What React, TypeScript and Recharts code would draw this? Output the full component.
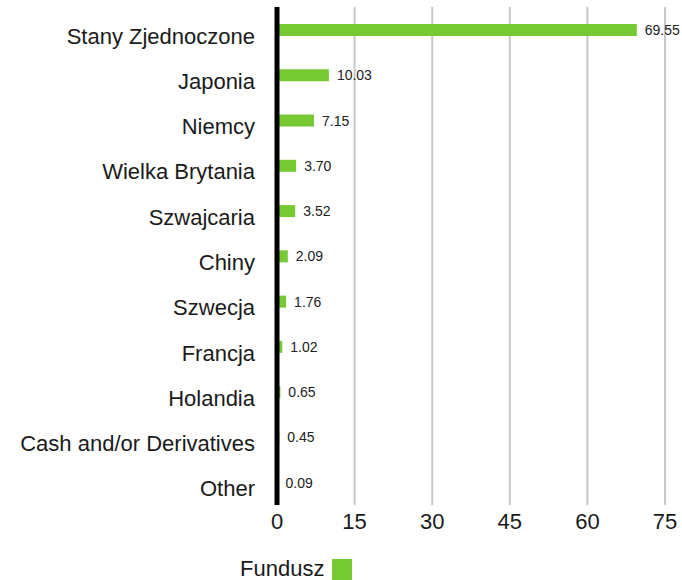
import { BarChart, Bar, XAxis, YAxis, CartesianGrid, LabelList } from "recharts";

const categories = [
  "Stany Zjednoczone",
  "Japonia",
  "Niemcy",
  "Wielka Brytania",
  "Szwajcaria",
  "Chiny",
  "Szwecja",
  "Francja",
  "Holandia",
  "Cash and/or Derivatives",
  "Other",
];

const fundValues = [69.55, 10.03, 7.15, 3.7, 3.52, 2.09, 1.76, 1.02, 0.65, 0.45, 0.09];

const xTicks = [0, 15, 30, 45, 60, 75];

const seriesName = "Fundusz";

const data = categories.map((name, i) => ({ name, value: fundValues[i] }));

const FONT = '"Liberation Sans", Arial, sans-serif';
const GREEN = "#76c933";

function CategoryTick(props: any) {
  const { x, y, payload } = props;
  return (
    <text
      x={x}
      y={y}
      dy={14}
      textAnchor="end"
      fill="#1a1a1a"
      fontSize={22}
      fontFamily={FONT}
    >
      {payload.value}
    </text>
  );
}

export default function App() {
  return (
    <div style={{ position: "absolute", top: 0, left: 0, width: 682, height: 580 }}>
      <BarChart
        width={682}
        height={580}
        data={data}
        layout="vertical"
        margin={{ top: 7, right: 17, left: 0, bottom: 0 }}
        barSize={12}
      >
        <CartesianGrid horizontal={false} stroke="#c8c8c8" strokeWidth={2} />
        <XAxis
          type="number"
          domain={[0, 75]}
          ticks={xTicks}
          height={75}
          axisLine={false}
          tickLine={false}
          tickSize={0}
          tickMargin={8}
          tick={{ fill: "#1a1a1a", fontSize: 22, fontFamily: FONT }}
        />
        <YAxis
          type="category"
          dataKey="name"
          width={277}
          axisLine={{ stroke: "#000", strokeWidth: 5 }}
          tickLine={false}
          tickSize={0}
          tickMargin={22}
          tick={<CategoryTick />}
          interval={0}
        />
        <Bar dataKey="value" name={seriesName} fill={GREEN} isAnimationActive={false}>
          <LabelList
            dataKey="value"
            position="right"
            offset={8}
            fill="#222"
            fontSize={14}
            fontFamily={FONT}
            formatter={(v: any) => Number(v).toFixed(2)}
          />
        </Bar>
      </BarChart>
      <div
        style={{
          position: "absolute",
          left: 240,
          top: 556,
          display: "flex",
          alignItems: "flex-start",
          fontFamily: FONT,
          fontSize: 22,
          color: "#1a1a1a",
          lineHeight: "26px",
        }}
      >
        <span>{seriesName}</span>
        <span
          style={{
            display: "inline-block",
            width: 20,
            height: 21,
            background: GREEN,
            marginLeft: 8,
            marginTop: 3,
          }}
        />
      </div>
    </div>
  );
}
